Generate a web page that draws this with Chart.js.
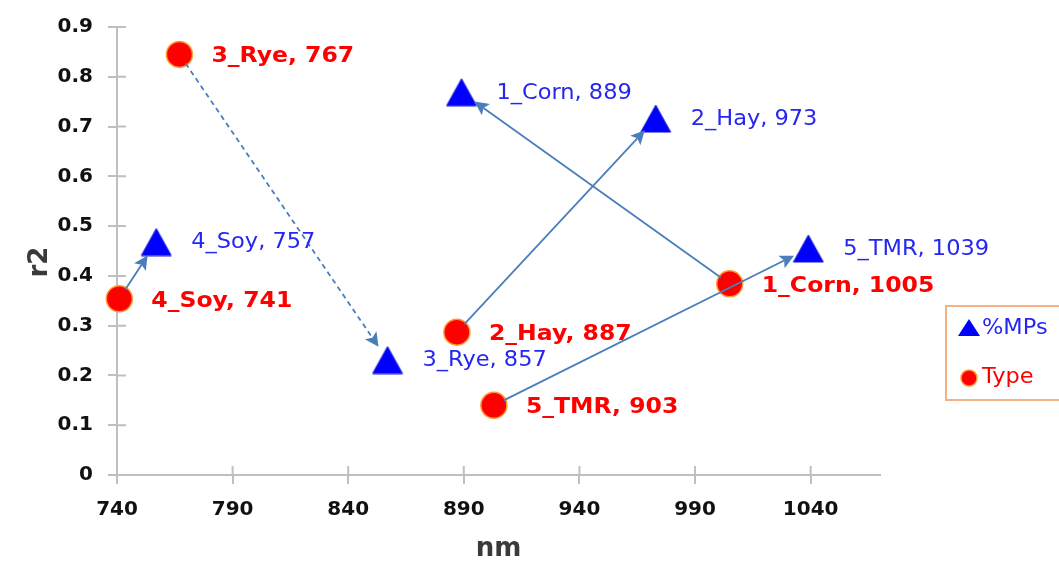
<!DOCTYPE html>
<html><head><meta charset="utf-8">
<script src="https://cdn.jsdelivr.net/npm/chart.js@4.4.1/dist/chart.umd.min.js"></script>
<style>html,body{margin:0;padding:0;background:#fff;overflow:hidden;} #wrap{width:1059px;height:563px;}</style>
</head><body><div id="wrap"><canvas id="c" width="1059" height="563"></canvas></div>
<script>
// ---- data ----
const categories = ['1_Corn', '2_Hay', '3_Rye', '4_Soy', '5_TMR'];
const typeX = [1005, 887, 767, 741, 903];
const typeY = [0.384, 0.287, 0.845, 0.354, 0.140];
const mpsX = [889, 973, 857, 757, 1039];
const mpsY = [0.769, 0.716, 0.231, 0.468, 0.455];
const arrowDashed = [false, false, true, false, false];
const seriesNames = ['%MPs', 'Type'];
const xTicks = [740, 790, 840, 890, 940, 990, 1040];
const xTickLabels = ['740', '790', '840', '890', '940', '990', '1040'];
const yTicks = [0, 0.1, 0.2, 0.3, 0.4, 0.5, 0.6, 0.7, 0.8, 0.9];
const yTickLabels = ['0', '0.1', '0.2', '0.3', '0.4', '0.5', '0.6', '0.7', '0.8', '0.9'];
const xTitle = 'nm';
const yTitle = 'r2';

// ---- styles ----
const AXIS = '#bfbfbf';
const BLUE = '#0000ff';
const BLUE_TXT = '#2626f2';
const RED = '#ff0000';
const ARROW = '#4a7ebb';
const STRETCH = 1.07;

function makeTri(w, h) {
  const c = document.createElement('canvas');
  c.width = w; c.height = h;
  const g = c.getContext('2d');
  g.beginPath();
  g.moveTo(w / 2, 1); g.lineTo(w - 1, h - 1); g.lineTo(1, h - 1); g.closePath();
  g.fillStyle = BLUE; g.fill();
  g.strokeStyle = '#1a1ad0'; g.lineWidth = 1; g.stroke();
  return c;
}
const triImg = makeTri(32, 29);

function stretchText(ctx, text, x, y) {
  ctx.save(); ctx.translate(x, y); ctx.scale(STRETCH, 1); ctx.fillText(text, 0, 0); ctx.restore();
}

const crossTicks = {
  id: 'crossTicks',
  beforeDatasetsDraw(chart) {
    const ctx = chart.ctx, a = chart.chartArea;
    const xs = chart.scales.x, ys = chart.scales.y;
    ctx.save();
    ctx.strokeStyle = AXIS; ctx.lineWidth = 2;
    ctx.beginPath();
    xTicks.forEach(v => { const px = xs.getPixelForValue(v); ctx.moveTo(px, a.bottom); ctx.lineTo(px, a.bottom - 9); });
    yTicks.forEach(v => { const py = ys.getPixelForValue(v); ctx.moveTo(a.left, py); ctx.lineTo(a.left + 9, py); });
    ctx.stroke();
    // y axis title
    ctx.translate(40, 262); ctx.rotate(-Math.PI / 2);
    ctx.font = 'bold 26px "DejaVu Sans"'; ctx.fillStyle = '#3a3a3a';
    ctx.textAlign = 'center'; ctx.textBaseline = 'middle';
    ctx.fillText(yTitle, 0, 0);
    ctx.restore();
  }
};

const arrows = {
  id: 'arrows',
  afterDatasetsDraw(chart) {
    const ctx = chart.ctx;
    const mps = chart.getDatasetMeta(0).data, typ = chart.getDatasetMeta(1).data;
    ctx.save();
    categories.forEach((c, i) => {
      const p0 = typ[i], p1 = mps[i];
      const dx = p1.x - p0.x, dy = p1.y - p0.y, L = Math.hypot(dx, dy);
      const ux = dx / L, uy = dy / L;
      const sx = p0.x + ux * 11, sy = p0.y + uy * 11;
      const tx = p1.x - ux * 16, ty = p1.y - uy * 16;
      const hl = 14, hw = 7;
      const bx = tx - ux * hl, by = ty - uy * hl;
      ctx.strokeStyle = ARROW; ctx.fillStyle = ARROW;
      ctx.lineWidth = 1.8;
      ctx.setLineDash(arrowDashed[i] ? [5, 4] : []);
      ctx.beginPath(); ctx.moveTo(sx, sy); ctx.lineTo(bx + ux * 3, by + uy * 3); ctx.stroke();
      ctx.setLineDash([]);
      ctx.beginPath();
      ctx.moveTo(tx, ty);
      ctx.lineTo(bx - uy * hw, by + ux * hw);
      ctx.lineTo(bx + ux * 3, by + uy * 3);
      ctx.lineTo(bx + uy * hw, by - ux * hw);
      ctx.closePath(); ctx.fill();
    });
    ctx.restore();
  }
};

const pointLabels = {
  id: 'pointLabels',
  afterDatasetsDraw(chart) {
    const ctx = chart.ctx;
    const mps = chart.getDatasetMeta(0).data, typ = chart.getDatasetMeta(1).data;
    ctx.save();
    ctx.textBaseline = 'middle'; ctx.textAlign = 'left';
    ctx.font = 'bold 22px "DejaVu Sans"'; ctx.fillStyle = RED;
    categories.forEach((c, i) => stretchText(ctx, c + ', ' + typeX[i], typ[i].x + 32, typ[i].y + 2));
    ctx.font = '21px "DejaVu Sans"'; ctx.fillStyle = BLUE_TXT;
    categories.forEach((c, i) => stretchText(ctx, c + ', ' + mpsX[i], mps[i].x + 35, mps[i].y + 1));
    ctx.restore();
  }
};

const boxLegend = {
  id: 'boxLegend',
  afterDraw(chart) {
    const ctx = chart.ctx;
    ctx.save();
    ctx.strokeStyle = '#f4b183'; ctx.lineWidth = 2;
    ctx.strokeRect(946, 306, 140, 94);
    ctx.beginPath();
    ctx.moveTo(969, 319); ctx.lineTo(980, 336); ctx.lineTo(958, 336); ctx.closePath();
    ctx.fillStyle = BLUE; ctx.fill();
    ctx.beginPath(); ctx.arc(969, 378, 8, 0, Math.PI * 2);
    ctx.fillStyle = RED; ctx.fill(); ctx.strokeStyle = '#ff9933'; ctx.lineWidth = 1.5; ctx.stroke();
    ctx.font = '21px "DejaVu Sans"'; ctx.textBaseline = 'middle'; ctx.textAlign = 'left';
    ctx.fillStyle = BLUE_TXT; stretchText(ctx, seriesNames[0], 982, 329);
    ctx.fillStyle = RED; stretchText(ctx, seriesNames[1], 982, 378);
    ctx.restore();
  }
};

new Chart(document.getElementById('c'), {
  type: 'scatter',
  data: {
    datasets: [
      { label: seriesNames[0], data: mpsX.map((x, i) => ({ x: x, y: mpsY[i] })),
        pointStyle: triImg, pointRadius: 15, pointHoverRadius: 15, backgroundColor: BLUE, clip: false },
      { label: seriesNames[1], data: typeX.map((x, i) => ({ x: x, y: typeY[i] })),
        pointStyle: 'circle', pointRadius: 13, pointHoverRadius: 13, backgroundColor: RED,
        borderColor: '#ff9933', borderWidth: 1.5, clip: false }
    ]
  },
  options: {
    responsive: false, animation: false, devicePixelRatio: 1,
    layout: { padding: { left: 0, top: 26, right: 179, bottom: 0 } },
    plugins: { legend: { display: false }, tooltip: { enabled: false } },
    scales: {
      x: {
        type: 'linear', min: 740, max: 1070,
        afterBuildTicks: s => { s.ticks = xTicks.map(v => ({ value: v })); },
        afterFit: s => { s.height = 88; },
        grid: { drawOnChartArea: false, drawTicks: true, tickLength: 9, tickColor: AXIS, lineWidth: 2 },
        border: { display: true, color: AXIS, width: 2 },
        ticks: { padding: 14, color: '#111', font: { family: 'DejaVu Sans', weight: 'bold', size: 20 },
                 maxRotation: 0, autoSkip: false, callback: (v, i) => xTickLabels[i] },
        title: { display: true, text: xTitle, color: '#3a3a3a', padding: { top: 0, bottom: 1 },
                 font: { family: 'DejaVu Sans', weight: 'bold', size: 26, lineHeight: 1 } }
      },
      y: {
        type: 'linear', min: 0, max: 0.9,
        afterBuildTicks: s => { s.ticks = yTicks.map(v => ({ value: v })); },
        afterFit: s => { s.width = 117; },
        grid: { drawOnChartArea: false, drawTicks: true, tickLength: 9, tickColor: AXIS, lineWidth: 2 },
        border: { display: true, color: AXIS, width: 2 },
        ticks: { padding: 15, color: '#111', font: { family: 'DejaVu Sans', weight: 'bold', size: 20 },
                 autoSkip: false, callback: (v, i) => yTickLabels[i] },
        title: { display: false }
      }
    }
  },
  plugins: [crossTicks, arrows, pointLabels, boxLegend]
});
</script>
</body></html>
